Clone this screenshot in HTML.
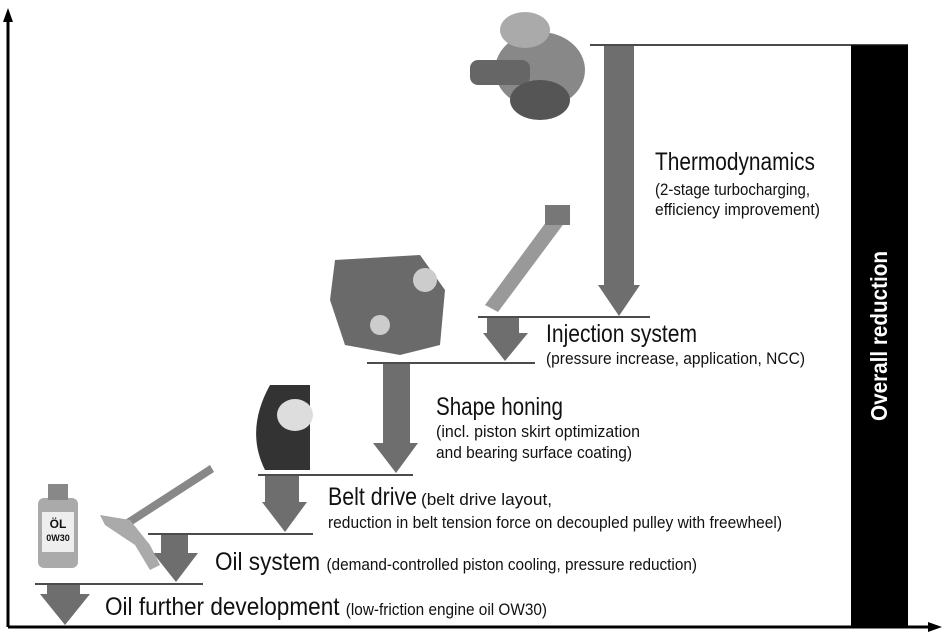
<!DOCTYPE html>
<html><head><meta charset="utf-8"><style>
body{margin:0;background:#fff;}
svg{display:block}
text{font-family:"Liberation Sans Narrow","Liberation Sans",sans-serif;fill:#111}
</style></head><body>
<svg width="945" height="633" viewBox="0 0 945 633" xmlns="http://www.w3.org/2000/svg">
<line x1="8" y1="627" x2="8" y2="20" stroke="#000" stroke-width="3"/>
<polygon points="8,8 3,22 13,22" fill="#000"/>
<line x1="8" y1="627" x2="930" y2="627" stroke="#000" stroke-width="3"/>
<polygon points="942,627 928,622 928,632" fill="#000"/>
<rect x="851" y="45" width="57" height="582" fill="#000"/>
<text transform="translate(887,336) rotate(-90)" text-anchor="middle" font-size="23" font-weight="bold" textLength="170" lengthAdjust="spacingAndGlyphs" style="fill:#fff">Overall reduction</text>
<g stroke="#111" stroke-width="1.5">
<line x1="590" y1="45" x2="908" y2="45"/>
<line x1="478" y1="317" x2="650" y2="317"/>
<line x1="367" y1="363" x2="535" y2="363"/>
<line x1="258" y1="475" x2="413" y2="475"/>
<line x1="148" y1="534" x2="313" y2="534"/>
<line x1="35" y1="584" x2="203" y2="584"/>
</g>
<g fill="#6e6e6e">
<polygon points="604,46 634,46 634,285 640,285 619,316 598,285 604,285"/>
<polygon points="487,318 519,318 519,333 528,333 505,361 483,333 487,333"/>
<polygon points="383,364 410,364 410,443 418,443 396,473 373,443 383,443"/>
<polygon points="265,476 299,476 299,502 307,502 285,532 262,502 265,502"/>
<polygon points="161,535 188,535 188,553 198,553 176,582 153,553 161,553"/>
<polygon points="47,585 80,585 80,594 90,594 65,625 40,594 47,594"/>
</g>
<g fill="#777">
<ellipse cx="540" cy="70" rx="45" ry="38" fill="#888"/>
<ellipse cx="525" cy="30" rx="25" ry="18" fill="#aaa"/>
<rect x="470" y="60" width="60" height="25" rx="8" fill="#666"/>
<ellipse cx="540" cy="100" rx="30" ry="20" fill="#555"/>
<polygon points="485,305 555,210 568,218 498,312" fill="#999"/>
<rect x="545" y="205" width="25" height="20" fill="#777"/>
<path d="M335,260 L420,255 L445,290 L440,345 L400,355 L345,345 L330,300 Z" fill="#6a6a6a"/>
<circle cx="425" cy="280" r="12" fill="#ccc"/>
<circle cx="380" cy="325" r="10" fill="#ccc"/>
<path d="M270,385 L310,385 L310,470 L265,470 Q245,430 270,385 Z" fill="#333"/>
<ellipse cx="295" cy="415" rx="18" ry="16" fill="#ddd"/>
<rect x="38" y="498" width="40" height="70" rx="6" fill="#aaa"/>
<rect x="48" y="484" width="20" height="16" fill="#888"/>
<rect x="42" y="512" width="32" height="40" fill="#eee"/>
<text x="58" y="528" text-anchor="middle" font-size="12" font-weight="bold">ÖL</text>
<text x="58" y="541" text-anchor="middle" font-size="9" font-weight="bold">0W30</text>
<polygon points="125,520 210,465 214,472 129,527" fill="#888"/>
<path d="M100,515 L130,520 L150,545 L160,565 L150,570 L135,545 L105,525 Z" fill="#aaa"/>
</g>
<text x="655" y="170" font-size="25" textLength="160" lengthAdjust="spacingAndGlyphs">Thermodynamics</text>
<text x="655" y="195" font-size="17" textLength="155" lengthAdjust="spacingAndGlyphs">(2-stage turbocharging,</text>
<text x="655" y="215" font-size="17" textLength="165" lengthAdjust="spacingAndGlyphs">efficiency improvement)</text>
<text x="546" y="342" font-size="25" textLength="151" lengthAdjust="spacingAndGlyphs">Injection system</text>
<text x="546" y="364" font-size="17" textLength="259" lengthAdjust="spacingAndGlyphs">(pressure increase, application, NCC)</text>
<text x="436" y="415" font-size="25" textLength="127" lengthAdjust="spacingAndGlyphs">Shape honing</text>
<text x="436" y="437" font-size="17" textLength="204" lengthAdjust="spacingAndGlyphs">(incl. piston skirt optimization</text>
<text x="436" y="458" font-size="17" textLength="196" lengthAdjust="spacingAndGlyphs">and bearing surface coating)</text>
<text x="328" y="505" font-size="25" textLength="89" lengthAdjust="spacingAndGlyphs">Belt drive</text>
<text x="421" y="505" font-size="17" textLength="131" lengthAdjust="spacingAndGlyphs">(belt drive layout,</text>
<text x="328" y="528" font-size="17" textLength="454" lengthAdjust="spacingAndGlyphs">reduction in belt tension force on decoupled pulley with freewheel)</text>
<text x="215" y="570" textLength="482" lengthAdjust="spacingAndGlyphs"><tspan font-size="25">Oil system </tspan><tspan font-size="17">(demand-controlled piston cooling, pressure reduction)</tspan></text>
<text x="105" y="615" textLength="442" lengthAdjust="spacingAndGlyphs"><tspan font-size="25">Oil further development </tspan><tspan font-size="17">(low-friction engine oil OW30)</tspan></text>
</svg>
</body></html>
